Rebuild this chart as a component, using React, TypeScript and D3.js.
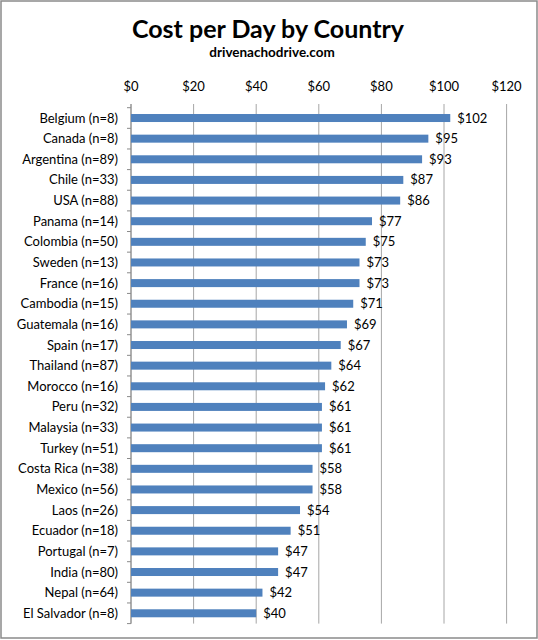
import React from "react";
import * as d3 from "d3";

const countries = [
  "Belgium (n=8)", "Canada (n=8)", "Argentina (n=89)", "Chile (n=33)", "USA (n=88)",
  "Panama (n=14)", "Colombia (n=50)", "Sweden (n=13)", "France (n=16)", "Cambodia (n=15)",
  "Guatemala (n=16)", "Spain (n=17)", "Thailand (n=87)", "Morocco (n=16)", "Peru (n=32)",
  "Malaysia (n=33)", "Turkey (n=51)", "Costa Rica (n=38)", "Mexico (n=56)", "Laos (n=26)",
  "Ecuador (n=18)", "Portugal (n=7)", "India (n=80)", "Nepal (n=64)", "El Salvador (n=8)",
];
const costs = [102, 95, 93, 87, 86, 77, 75, 73, 73, 71, 69, 67, 64, 62, 61, 61, 61, 58, 58, 54, 51, 47, 47, 42, 40];
const xTicks = [0, 20, 40, 60, 80, 100, 120];

const W = 538;
const H = 640;
const FONT = "Lato, 'Open Sans', sans-serif";

export default function App() {
  const x = d3.scaleLinear().domain([0, 120]).range([131, 506.6]);
  const y = d3.scaleBand<string>().domain(countries).range([107.7, 623.6]).paddingInner(0.6).paddingOuter(0.3);
  const band = d3.scaleBand<string>().domain(countries).range([107.7, 623.6]);
  const step = band.step();
  const fmt = (v: number) => `$${v}`;
  const boundaries = d3.range(countries.length + 1).map((i) => 107.7 + i * step);

  return (
    <svg width={W} height={H} style={{ position: "absolute", left: 0, top: 0 }} fontFamily={FONT}>
      <rect x={0} y={0} width={W} height={H} fill="#fff" />
      <rect x={1} y={1} width={W - 2} height={H - 3} fill="none" stroke="#8a8a8a" strokeWidth={1.5} />
      <text x={268} y={38} textAnchor="middle" fontSize={25} fontWeight="bold" fill="#000">
        Cost per Day by Country
      </text>
      <text x={272} y={57} textAnchor="middle" fontSize={13.5} fontWeight="bold" fill="#000">
        drivenachodrive.com
      </text>
      {xTicks.map((t) => (
        <g key={t}>
          <line x1={x(t)} x2={x(t)} y1={104} y2={623.6} stroke="#a6a6a6" strokeWidth={1} />
          <text x={x(t)} y={91} textAnchor="middle" fontSize={13} fill="#000">
            {fmt(t)}
          </text>
        </g>
      ))}
      <line x1={x(0)} x2={x(0)} y1={104} y2={623.6} stroke="#8a8a8a" strokeWidth={1} />
      {boundaries.map((b, i) => (
        <line key={i} x1={x(0) - 4} x2={x(0)} y1={b} y2={b} stroke="#8a8a8a" strokeWidth={1} />
      ))}
      {countries.map((c, i) => {
        const cy = (band(c) ?? 0) + step / 2;
        return (
          <g key={c}>
            <rect x={x(0)} y={cy - 4} width={x(costs[i]) - x(0)} height={8} fill="#4f81bd" />
            <text x={118} y={cy + 4.5} textAnchor="end" fontSize={13} fill="#000">
              {c}
            </text>
            <text x={x(costs[i]) + 7} y={cy + 4.5} textAnchor="start" fontSize={13} fill="#000">
              {fmt(costs[i])}
            </text>
          </g>
        );
      })}
    </svg>
  );
}
